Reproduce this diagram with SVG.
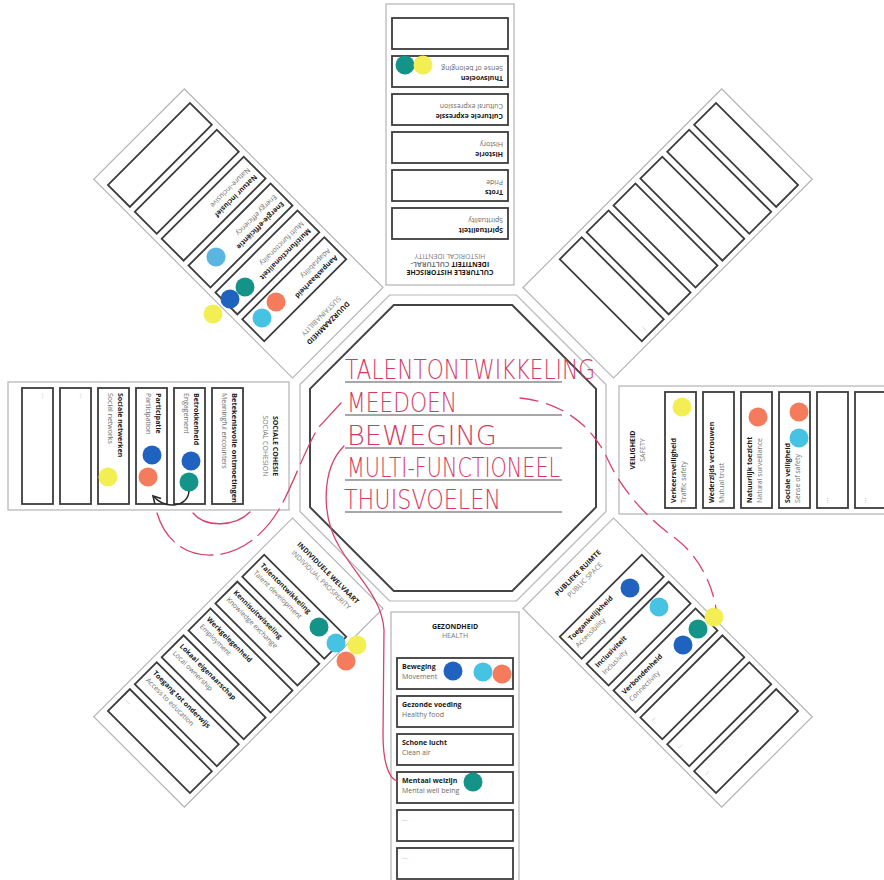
<svg xmlns="http://www.w3.org/2000/svg" width="884" height="880" viewBox="0 0 884 880">
<defs>
<style>
.card{fill:#fff;stroke:#b3b3b3;stroke-width:1.2}
.box{fill:#fff;stroke:#3c3c3c;stroke-width:1.8}
.t{font-family:"Open Sans","Liberation Sans",sans-serif;font-size:7px;font-weight:700;fill:#1a1a1a;text-anchor:middle}
.s{font-family:"Open Sans","Liberation Sans",sans-serif;font-size:7px;fill:#7a7a7a;text-anchor:middle}
.b{font-family:"Open Sans","Liberation Sans",sans-serif;font-size:7px;font-weight:700;fill:#1a1a1a}
.r{font-family:"Open Sans","Liberation Sans",sans-serif;font-size:7px;fill:#6a6a6a}
.e{font-family:"Open Sans","Liberation Sans",sans-serif;font-size:7px;fill:#aaa}
.hand{font-family:"DejaVu Sans","Liberation Sans",sans-serif;font-weight:200;font-size:27px;fill:#d63a63}
.red{fill:none;stroke:#d8426a;stroke-width:1.3;stroke-linecap:round}
.dash{stroke-dasharray:18 9}
.rule{stroke:#8a8a8a;stroke-width:1.3}
.db{fill:#1f62c0}.tl{fill:#149488}.cy{fill:#46c2e2}.sa{fill:#f47b5b}.ye{fill:#f4ee55}.lb{fill:#5ab6e0}
</style>
<marker id="chev" viewBox="0 0 10 10" refX="8" refY="5" markerWidth="7" markerHeight="7" orient="auto">
<path d="M1,1 L8,5 L1,9" fill="none" stroke="#2a2a2a" stroke-width="1.5"/>
</marker>
</defs>
<rect width="884" height="880" fill="#fff"/>

<g id="octagon">
<polygon points="389.6,295 516.4,295 606,384.6 606,511.4 516.4,601 389.6,601 300,511.4 300,384.6" fill="none" stroke="#b8b8b8" stroke-width="1.2"/>
<polygon points="393.8,305 512.2,305 596,388.8 596,507.2 512.2,591 393.8,591 310,507.2 310,388.8" fill="#fff" stroke="#444" stroke-width="2"/>
<line class="rule" x1="345" y1="382" x2="562" y2="382"/>
<line class="rule" x1="345" y1="415" x2="562" y2="415"/>
<line class="rule" x1="345" y1="448" x2="562" y2="448"/>
<line class="rule" x1="345" y1="480" x2="562" y2="480"/>
<line class="rule" x1="345" y1="512" x2="562" y2="512"/>
<text class="hand" x="345" y="379" textLength="250" lengthAdjust="spacingAndGlyphs">TALENTONTWIKKELING</text>
<text class="hand" x="347" y="412" textLength="110" lengthAdjust="spacingAndGlyphs">MEEDOEN</text>
<text class="hand" x="347" y="445" textLength="150" lengthAdjust="spacingAndGlyphs">BEWEGING</text>
<text class="hand" x="347" y="477" textLength="213" lengthAdjust="spacingAndGlyphs">MULTI-FUNCTIONEEL</text>
<text class="hand" x="344" y="509" textLength="157" lengthAdjust="spacingAndGlyphs">THUISVOELEN</text>
</g>

<g id="card-cultureel">
<g transform="translate(450,448) rotate(180)">
<rect class="card" x="-64" y="163" width="128" height="281"/>
<text class="t" y="178">CULTURELE HISTORISCHE</text>
<text class="t" y="186">IDENTITEIT <tspan class="s" style="text-anchor:start">CULTURAL-</tspan></text>
<text class="s" y="194">HISTORICAL IDENTITY</text>
<rect class="box" x="-58" y="209" width="116" height="31"/><text class="b" x="-53" y="220">Spiritualiteit</text><text class="r" x="-53" y="230">Spirituality</text>
<rect class="box" x="-58" y="247" width="116" height="31"/><text class="b" x="-53" y="258">Trots</text><text class="r" x="-53" y="268">Pride</text>
<rect class="box" x="-58" y="285" width="116" height="31"/><text class="b" x="-53" y="296">Historie</text><text class="r" x="-53" y="306">History</text>
<rect class="box" x="-58" y="323" width="116" height="31"/><text class="b" x="-53" y="334">Culturele expressie</text><text class="r" x="-53" y="344">Cultural expression</text>
<rect class="box" x="-58" y="361" width="116" height="31"/><text class="b" x="-53" y="372">Thuisvoelen</text><text class="r" x="-53" y="382">Sense of belonging</text>
<rect class="box" x="-58" y="399" width="116" height="31"/>
</g>
<circle class="tl" cx="405" cy="65" r="9.5"/><circle class="ye" cx="423" cy="65" r="9.5"/>
</g>

<g id="card-leeg">
<g transform="translate(453,448) rotate(-135)">
<rect class="card" x="-64" y="163" width="128" height="281"/>
<rect class="box" x="-58" y="209" width="116" height="31"/><text class="e" x="-53" y="220">...</text>
<rect class="box" x="-58" y="247" width="116" height="31"/>
<rect class="box" x="-58" y="285" width="116" height="31"/>
<rect class="box" x="-58" y="323" width="116" height="31"/>
<rect class="box" x="-58" y="361" width="116" height="31"/>
<rect class="box" x="-58" y="399" width="116" height="31"/>
</g>
</g>

<g id="card-veiligheid">
<g transform="translate(456,450) rotate(-90)">
<rect class="card" x="-64" y="163" width="128" height="281"/>
<text class="t" y="179">VEILIGHEID</text>
<text class="s" y="189">SAFETY</text>
<rect class="box" x="-58" y="209" width="116" height="31"/><text class="b" x="-53" y="220">Verkeersveiligheid</text><text class="r" x="-53" y="230">Traffic safety</text>
<rect class="box" x="-58" y="247" width="116" height="31"/><text class="b" x="-53" y="258">Wederzijds vertrouwen</text><text class="r" x="-53" y="268">Mutual trust</text>
<rect class="box" x="-58" y="285" width="116" height="31"/><text class="b" x="-53" y="296">Natuurlijk toezicht</text><text class="r" x="-53" y="306">Natural surveillance</text>
<rect class="box" x="-58" y="323" width="116" height="31"/><text class="b" x="-53" y="334">Sociale veiligheid</text><text class="r" x="-53" y="344">Sense of safety</text>
<rect class="box" x="-58" y="361" width="116" height="31"/><text class="e" x="-53" y="372">...</text>
<rect class="box" x="-58" y="399" width="116" height="31"/><text class="e" x="-53" y="410">...</text>
</g>
<circle class="ye" cx="682" cy="407" r="9.5"/><circle class="sa" cx="758" cy="417" r="9.5"/>
<circle class="sa" cx="799" cy="412" r="9.5"/><circle class="cy" cx="799" cy="438" r="9.5"/>
</g>

<g id="card-publieke-ruimte">
<g transform="translate(453,448) rotate(-45)">
<rect class="card" x="-64" y="163" width="128" height="281"/>
<text class="t" y="179">PUBLIEKE RUIMTE</text>
<text class="s" y="189">PUBLIC SPACE</text>
<rect class="box" x="-58" y="209" width="116" height="31"/><text class="b" x="-53" y="220">Toegankelijkheid</text><text class="r" x="-53" y="230">Accessibility</text>
<rect class="box" x="-58" y="247" width="116" height="31"/><text class="b" x="-53" y="258">Inclusiviteit</text><text class="r" x="-53" y="268">Inclusivity</text>
<rect class="box" x="-58" y="285" width="116" height="31"/><text class="b" x="-53" y="296">Verbondenheid</text><text class="r" x="-53" y="306">Connectivity</text>
<rect class="box" x="-58" y="323" width="116" height="31"/><text class="e" x="-53" y="334">...</text>
<rect class="box" x="-58" y="361" width="116" height="31"/><text class="e" x="-53" y="372">...</text>
<rect class="box" x="-58" y="399" width="116" height="31"/><text class="e" x="-53" y="410">...</text>
</g>
<circle class="db" cx="630" cy="588" r="9.5"/><circle class="cy" cx="659" cy="607" r="9.5"/>
<circle class="ye" cx="714" cy="617" r="9.5"/><circle class="tl" cx="698" cy="629" r="9.5"/>
<circle class="db" cx="683" cy="645" r="9.5"/>
</g>

<g id="card-gezondheid">
<g transform="translate(455,449)">
<rect class="card" x="-64" y="163" width="128" height="281"/>
<text class="t" y="180">GEZONDHEID</text>
<text class="s" y="189">HEALTH</text>
<rect class="box" x="-58" y="209" width="116" height="31"/><text class="b" x="-53" y="220">Beweging</text><text class="r" x="-53" y="230">Movement</text>
<rect class="box" x="-58" y="247" width="116" height="31"/><text class="b" x="-53" y="258">Gezonde voeding</text><text class="r" x="-53" y="268">Healthy food</text>
<rect class="box" x="-58" y="285" width="116" height="31"/><text class="b" x="-53" y="296">Schone lucht</text><text class="r" x="-53" y="306">Clean air</text>
<rect class="box" x="-58" y="323" width="116" height="31"/><text class="b" x="-53" y="334">Mentaal welzijn</text><text class="r" x="-53" y="344">Mental well being</text>
<rect class="box" x="-58" y="361" width="116" height="31"/><text class="e" x="-53" y="372">...</text>
<rect class="box" x="-58" y="399" width="116" height="31"/><text class="e" x="-53" y="410">...</text>
</g>
<circle class="db" cx="453" cy="671" r="9.5"/><circle class="cy" cx="483" cy="672" r="9.5"/>
<circle class="sa" cx="502" cy="674" r="9.5"/><circle class="tl" cx="473" cy="782" r="9.5"/>
</g>

<g id="card-individuele-welvaart">
<g transform="translate(453,448) rotate(45)">
<rect class="card" x="-64" y="163" width="128" height="281"/>
<text class="t" y="179">INDIVIDUELE WELVAART</text>
<text class="s" y="189">INDIVIDUAL PROSPERITY</text>
<rect class="box" x="-58" y="209" width="116" height="31"/><text class="b" x="-53" y="220">Talentontwikkeling</text><text class="r" x="-53" y="230">Talent development</text>
<rect class="box" x="-58" y="247" width="116" height="31"/><text class="b" x="-53" y="258">Kennisuitwisseling</text><text class="r" x="-53" y="268">Knowledge exchange</text>
<rect class="box" x="-58" y="285" width="116" height="31"/><text class="b" x="-53" y="296">Werkgelegenheid</text><text class="r" x="-53" y="306">Employment</text>
<rect class="box" x="-58" y="323" width="116" height="31"/><text class="b" x="-53" y="334">Lokaal eigenaarschap</text><text class="r" x="-53" y="344">Local ownership</text>
<rect class="box" x="-58" y="361" width="116" height="31"/><text class="b" x="-53" y="372">Toegang tot onderwijs</text><text class="r" x="-53" y="382">Access to education</text>
<rect class="box" x="-58" y="399" width="116" height="31"/><text class="e" x="-53" y="410">...</text>
</g>
<circle class="tl" cx="319" cy="627" r="9.5"/><circle class="cy" cx="336" cy="643" r="9.5"/>
<circle class="ye" cx="357" cy="645" r="9.5"/><circle class="sa" cx="346" cy="661" r="9.5"/>
</g>

<g id="card-sociale-cohesie">
<g transform="translate(452,446) rotate(90)">
<rect class="card" x="-64" y="163" width="128" height="281"/>
<text class="t" y="179">SOCIALE COHESIE</text>
<text class="s" y="189">SOCIAL COHESION</text>
<rect class="box" x="-58" y="209" width="116" height="31"/><text class="b" x="-53" y="220" textLength="110" lengthAdjust="spacingAndGlyphs">Betekenisvolle ontmoetingen</text><text class="r" x="-53" y="230">Meaningful encounters</text>
<rect class="box" x="-58" y="247" width="116" height="31"/><text class="b" x="-53" y="258">Betrokkenheid</text><text class="r" x="-53" y="268">Engagement</text>
<rect class="box" x="-58" y="285" width="116" height="31"/><text class="b" x="-53" y="296">Participatie</text><text class="r" x="-53" y="306">Participation</text>
<rect class="box" x="-58" y="323" width="116" height="31"/><text class="b" x="-53" y="334">Sociale netwerken</text><text class="r" x="-53" y="344">Social networks</text>
<rect class="box" x="-58" y="361" width="116" height="31"/><text class="e" x="-53" y="372">...</text>
<rect class="box" x="-58" y="399" width="116" height="31"/><text class="e" x="-53" y="410">...</text>
</g>
<circle class="db" cx="152" cy="455" r="9.5"/><circle class="sa" cx="148" cy="477" r="9.5"/>
<circle class="ye" cx="108" cy="477" r="9.5"/><circle class="db" cx="191" cy="461" r="9.5"/>
<circle class="tl" cx="189" cy="482" r="9.5"/>
</g>

<g id="card-duurzaamheid">
<g transform="translate(453,448) rotate(135)">
<rect class="card" x="-64" y="163" width="128" height="281"/>
<text class="t" y="179">DUURZAAMHEID</text>
<text class="s" y="189">SUSTAINABILITY</text>
<rect class="box" x="-58" y="209" width="116" height="31"/><text class="b" x="-53" y="220">Aanpasbaarheid</text><text class="r" x="-53" y="230">Adaptability</text>
<rect class="box" x="-58" y="247" width="116" height="31"/><text class="b" x="-53" y="258">Multifunctionaliteit</text><text class="r" x="-53" y="268">Multi functionality</text>
<rect class="box" x="-58" y="285" width="116" height="31"/><text class="b" x="-53" y="296">Energie-efficiëntie</text><text class="r" x="-53" y="306">Energy efficiency</text>
<rect class="box" x="-58" y="323" width="116" height="31"/><text class="b" x="-53" y="334">Natuur inclusief</text><text class="r" x="-53" y="344">Nature-inclusive</text>
<rect class="box" x="-58" y="361" width="116" height="31"/>
<rect class="box" x="-58" y="399" width="116" height="31"/>
</g>
<circle class="lb" cx="216" cy="257" r="9.5"/><circle class="tl" cx="245" cy="287" r="9.5"/>
<circle class="db" cx="230" cy="299" r="9.5"/><circle class="ye" cx="213" cy="314" r="9.5"/>
<circle class="sa" cx="276" cy="302" r="9.5"/><circle class="cy" cx="262" cy="318" r="9.5"/>
</g>

<g id="connectors">
<path d="M189,491 C188,507 166,510 153,496" fill="none" stroke="#2a2a2a" stroke-width="1.5" marker-end="url(#chev)"/>
<path class="red" d="M344,446 C322,468 320,515 340,548 C358,578 382,598 384,630 L383,735 C383,760 388,778 397,781"/>
<path class="red" stroke-dasharray="34 8" d="M157,513 C165,540 185,556 212,555 C240,554 265,535 281,506 C294,482 304,452 318,428 L341,403"/>
<path class="red" d="M193,513 C205,528 235,527 250,512"/>
<path class="red dash" d="M520,398 C560,402 592,424 608,460 C624,494 650,520 675,538 C700,557 712,585 716,608"/>
</g>
</svg>
